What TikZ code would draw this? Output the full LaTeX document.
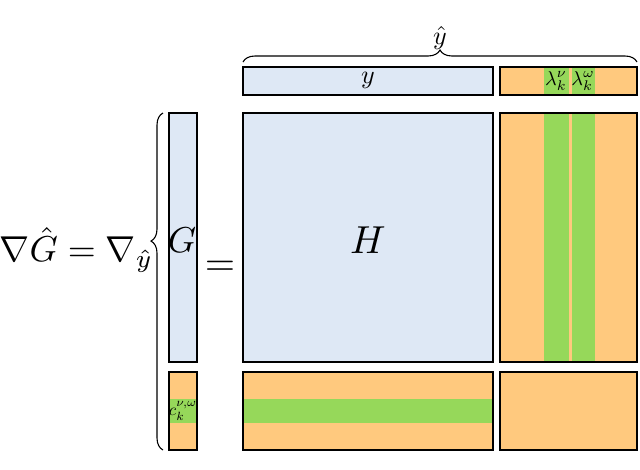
\documentclass[tikz,border=0pt]{standalone}
\usetikzlibrary{decorations.pathreplacing}
\definecolor{lb}{HTML}{DEE8F5}
\definecolor{og}{HTML}{FFC97E}
\definecolor{gr}{HTML}{96D85A}
\begin{document}
\begin{tikzpicture}[x=1pt,y=-1pt,
  blk/.style={draw=black,line width=1.3pt},
  grs/.style={fill=gr}]
\useasboundingbox (0,0) rectangle (640,469);
% top row
\filldraw[blk,fill=lb] (243,67) rectangle (493,95);
\node[scale=2.6,inner sep=0] (y) at (368,80) {$y$};
\fill[og] (500,67) rectangle (637,95);
\fill[grs] (544,67) rectangle (569,95);
\fill[grs] (572,67) rectangle (595,95);
\node[inner sep=0,scale=2.0] (l1) at (556,81) {$\lambda^\nu_k$};
\node[inner sep=0,scale=2.0] (l2) at (583,81) {$\lambda^\omega_k$};
\draw[blk] (500,67) rectangle (637,95);
% H
\filldraw[blk,fill=lb] (243,113) rectangle (493,362);
\node[scale=3.9] (H) at (368,240) {$H$};
\fill[og] (500,113) rectangle (637,362);
\fill[grs] (544,113) rectangle (569,362);
\fill[grs] (572,113) rectangle (595,362);
\draw[blk] (500,113) rectangle (637,362);
% G
\filldraw[blk,fill=lb] (169,113) rectangle (197,362);
\node[scale=3.6,inner sep=0] (G) at (182,240) {$G$};
\fill[og] (169,372) rectangle (197,450);
\fill[grs] (169,399) rectangle (197,423);
\node[inner sep=0,scale=1.7] (c) at (183,411) {$c^{\nu,\omega}_k$};
\draw[blk] (169,372) rectangle (197,450);
% bottom
\fill[og] (243,372) rectangle (493,450);
\fill[grs] (243,399) rectangle (493,423);
\draw[blk] (243,372) rectangle (493,450);
\filldraw[blk,fill=og] (500,372) rectangle (637,450);
% braces
\coordinate (bl) at (243,62);
\coordinate (br) at (637,62);
\draw[line width=1.1pt,decorate,decoration={brace,amplitude=12pt}] (bl) -- (br)
  node[midway,above=11pt,inner sep=0,scale=2.6] (yh) {$\hat y$};
\coordinate (lb1) at (163,450);
\coordinate (lb2) at (163,113);
\draw[line width=1.1pt,decorate,decoration={brace,amplitude=12pt,aspect=0.62}] (lb1) -- (lb2);
\node[anchor=east,inner sep=0,scale=3.6] (eq) at (154,250) {$\nabla\hat G=\nabla_{\hat y}$};
\node[scale=3.9] (eq2) at (220,268) {$=$};
\end{tikzpicture}
\end{document}
